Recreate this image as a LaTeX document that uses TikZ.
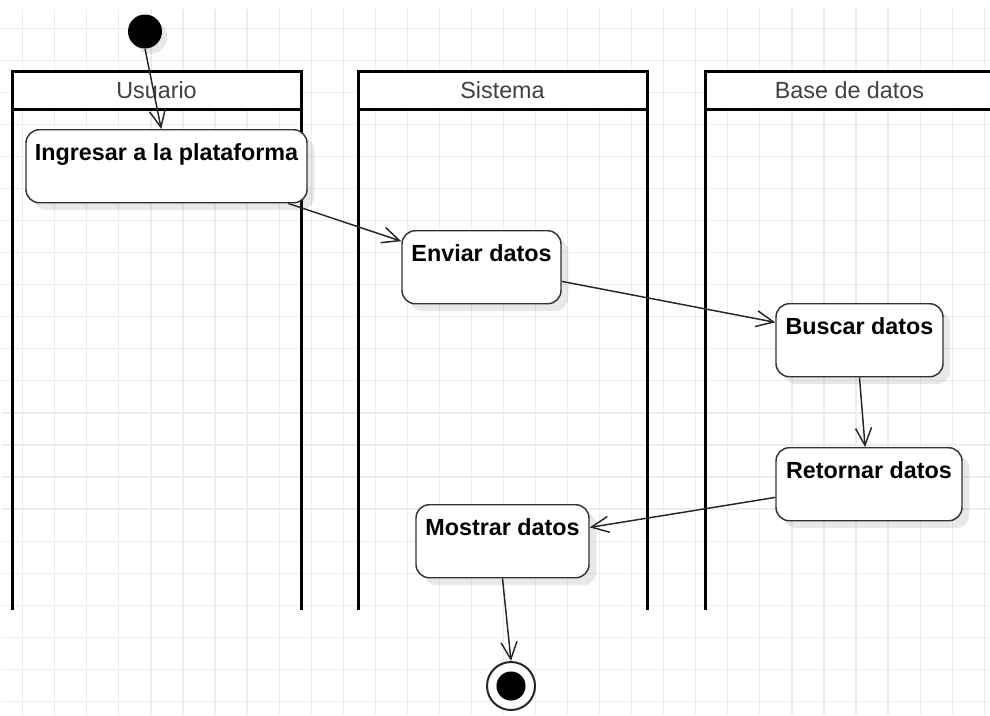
\documentclass[tikz,border=0pt]{standalone}
\usepackage{fontspec}
\setmainfont{Liberation Sans}
\usetikzlibrary{arrows.meta, shadows}
\tikzset{
    lanehead/.style={
        draw=black,
        line width=2.25pt,
        fill=white,
        outer sep=0pt,
        inner sep=0pt,
        minimum width=216.75pt,
        minimum height=28.5pt,
        text=black!75,
        font=\fontsize{17.5}{21}\selectfont
    },
    laneline/.style={draw=black, line width=2.25pt},
    activity/.style={
        draw=black!80,
        line width=1.1pt,
        fill=white,
        rounded corners=10pt,
        anchor=north,
        inner sep=0pt,
        minimum height=54.75pt,
        text height=22.9pt,
        text depth=31.85pt,
        font=\bfseries\fontsize{17.5}{21}\selectfont,
        drop shadow={shadow xshift=5.5pt, shadow yshift=-5.5pt, fill=black, opacity=0.09}
    },
    startdot/.style={
        circle,
        fill=black,
        inner sep=0pt,
        minimum size=25.5pt,
        drop shadow={shadow xshift=4pt, shadow yshift=-4pt, fill=black, opacity=0.09}
    },
    enddot/.style={
        circle,
        draw=black!85,
        line width=1.5pt,
        fill=white,
        inner sep=0pt,
        minimum size=36pt,
        path picture={\fill[black] (path picture bounding box.center) circle (10.9pt);}
    },
    flow/.style={-{Straight Barb[length=13pt, width=12pt]}, line width=1.1pt, draw=black!85},
    gridline/.style={draw=black!7, line width=0.9pt}
}

\begin{document}
\begin{tikzpicture}[x=0.75pt, y=-0.75pt]
\useasboundingbox (0,0) rectangle (990,715);
\clip (0,0) rectangle (990,715);

\foreach \i in {0,...,30}
    \draw[gridline] ({22.7+32.05*\i},9) -- ({22.7+32.05*\i},715);
\foreach \j in {0,...,21}
    \draw[gridline] (2,{28.3+32.05*\j}) -- (990,{28.3+32.05*\j});

\coordinate (laneend) at (0,610);
\node[lanehead] (usuario) at (156.5,90.5) {Usuario};
\node[lanehead] (sistema) at (502.5,90.5) {Sistema};
\node[lanehead] (basedatos) at (849.5,90.5) {Base de datos};
\foreach \lane in {usuario, sistema, basedatos} {
    \draw[laneline] (\lane.south west) -- (\lane.south west |- laneend);
    \draw[laneline] (\lane.south east) -- (\lane.south east |- laneend);
}

\node[startdot] (inicio) at (145,31.5) {};
\node[activity, minimum width=210.75pt] (ingresar) at (166.5,129) {Ingresar a la plataforma};
\node[activity, minimum width=119.25pt] (enviar) at (481.5,230) {Enviar datos};
\node[activity, minimum width=125.25pt] (buscar) at (859.5,303) {Buscar datos};
\node[activity, minimum width=139.5pt] (retornar) at (869,447) {Retornar datos};
\node[activity, minimum width=129.75pt] (mostrar) at (502.5,504) {Mostrar datos};
\node[enddot] (fin) at (511,686) {};

\draw[flow] (inicio.south) -- (ingresar.98.6);
\draw[flow] (ingresar.-17.4) -- (enviar.162.7);
\draw[flow] (enviar.-10.8) -- (buscar.168);
\draw[flow] (buscar.south) -- (retornar.96.3);
\draw[flow] (retornar.188.1) -- (mostrar.9);
\draw[flow] (mostrar.south) -- (fin.north);
\end{tikzpicture}
\end{document}
